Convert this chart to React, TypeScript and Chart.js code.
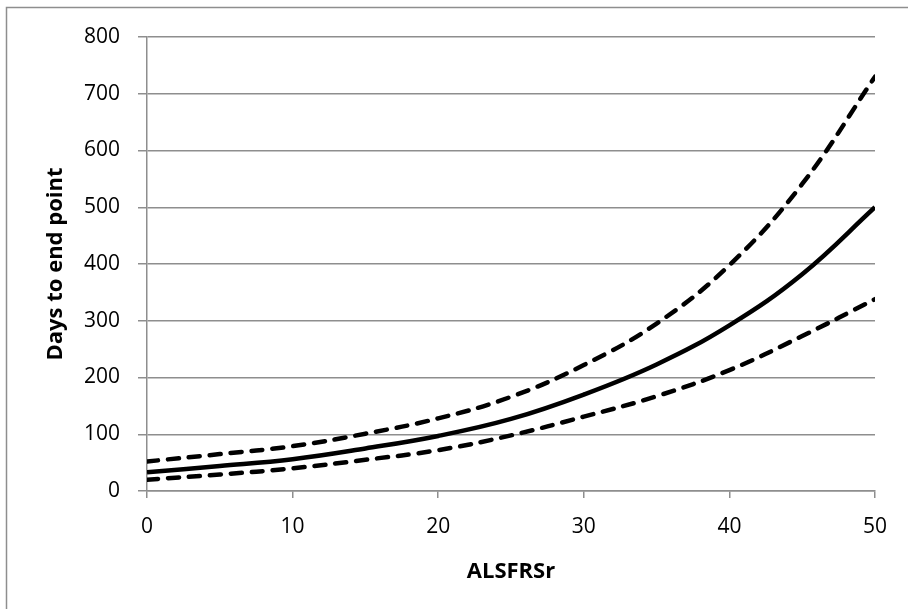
import React, { useEffect, useRef } from "react";
import { Chart, registerables } from "chart.js";

Chart.register(...registerables);

// ALSFRSr score (x) and predicted days to end point with confidence bounds
const alsfrsR = [0, 5, 10, 15, 20, 25, 30, 35, 40, 45, 50];
const daysEstimate = [33, 44, 56, 75, 97, 127, 170, 223, 292, 382, 500];
const daysUpper = [52, 65, 79, 101, 128, 166, 222, 295, 398, 541, 730];
const daysLower = [20, 29, 40, 55, 72, 98, 131, 167, 213, 273, 338];

const xTitle = "ALSFRSr";
const yTitle = "Days to end point";

const GRID = "#8e8e8e";
const FONT = "'Open Sans', 'Noto Sans', sans-serif";

const toPoints = (ys: number[]) => alsfrsR.map((x, i) => ({ x, y: ys[i] }));

// Outer frame of the chart box
const framePlugin = {
  id: "frame",
  beforeDraw(chart: any) {
    const { ctx } = chart;
    ctx.save();
    ctx.strokeStyle = GRID;
    ctx.lineWidth = 1.5;
    ctx.strokeRect(6.5, 7.5, 1200, 1200);
    ctx.restore();
  },
};

export default function App() {
  const ref = useRef<HTMLCanvasElement | null>(null);

  useEffect(() => {
    if (!ref.current) return;
    const dashed = {
      borderColor: "#000",
      borderWidth: 4.5,
      borderDash: [11, 10],
      borderCapStyle: "round" as const,
      pointRadius: 0,
      fill: false,
      tension: 0.4,
    };
    const chart = new Chart(ref.current, {
      type: "line",
      data: {
        datasets: [
          { ...dashed, label: "Upper", data: toPoints(daysUpper) },
          {
            label: "Estimate",
            data: toPoints(daysEstimate),
            borderColor: "#000",
            borderWidth: 4.5,
            pointRadius: 0,
            fill: false,
            tension: 0.4,
          },
          { ...dashed, label: "Lower", data: toPoints(daysLower) },
        ],
      },
      options: {
        responsive: false,
        animation: false,
        devicePixelRatio: 1,
        layout: { padding: { top: 37, right: 33, left: 0, bottom: 0 } },
        plugins: {
          legend: { display: false },
          tooltip: { enabled: false },
          title: { display: false },
        },
        scales: {
          x: {
            type: "linear",
            min: 0,
            max: 50,
            ticks: {
              stepSize: 10,
              color: "#000",
              font: { family: FONT, size: 21 },
              padding: 16,
            },
            grid: {
              drawOnChartArea: false,
              color: GRID,
              lineWidth: 1.5,
              tickLength: 7,
            },
            border: { color: GRID, width: 1.5 },
            title: {
              display: true,
              text: xTitle,
              color: "#000",
              font: { family: FONT, size: 22, weight: "bold" },
              padding: { top: 0, bottom: 24 },
            },
            afterFit(scale: any) {
              scale.height = 118;
            },
          },
          y: {
            min: 0,
            max: 800,
            ticks: {
              stepSize: 100,
              color: "#000",
              font: { family: FONT, size: 21 },
              padding: 18,
            },
            grid: {
              color: GRID,
              lineWidth: 1.5,
              tickLength: 9,
            },
            border: { color: GRID, width: 1.5 },
            title: {
              display: true,
              text: yTitle,
              color: "#000",
              font: { family: FONT, size: 22, weight: "bold" },
              padding: { top: 43, bottom: 0 },
            },
            afterFit(scale: any) {
              scale.width = 147;
            },
          },
        },
      },
      plugins: [framePlugin],
    });
    return () => chart.destroy();
  }, []);

  return (
    <div
      style={{
        position: "fixed",
        left: 0,
        top: 0,
        width: 908,
        height: 609,
        background: "#fff",
      }}
    >
      <canvas ref={ref} width={908} height={609} style={{ display: "block" }} />
    </div>
  );
}
